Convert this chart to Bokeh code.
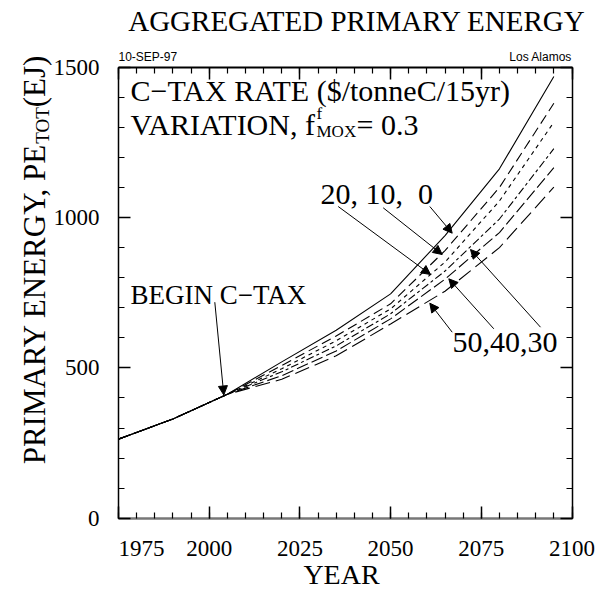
from bokeh.plotting import figure
from bokeh.models import Range1d, FixedTicker, LinearAxis, Label, Arrow, NormalHead
from bokeh.embed import file_html
from bokeh.resources import INLINE

# ---- data ----
years = [1975, 1990, 2005, 2020, 2035, 2050, 2065, 2080, 2095]
tax_rates = [0, 10, 20, 30, 40, 50]
pe_tax0 = [263, 330, 412, 520, 625, 746, 940, 1162, 1469]
pe_tax10 = [263, 330, 412, 508, 606, 713, 890, 1100, 1380]
pe_tax20 = [263, 330, 412, 497, 590, 696, 852, 1055, 1317]
pe_tax30 = [263, 330, 412, 487, 573, 680, 822, 995, 1229]
pe_tax40 = [263, 330, 412, 474, 556, 663, 795, 950, 1166]
pe_tax50 = [263, 330, 412, 462, 540, 646, 755, 900, 1101]
series = [pe_tax0, pe_tax10, pe_tax20, pe_tax30, pe_tax40, pe_tax50]
dashes = ["solid", "10 5", "4 4", "8 3 3 3", "12 4", "15 6"]

x_major = [1975, 2000, 2025, 2050, 2075, 2100]
y_major = [0, 500, 1000, 1500]
x_bounds = (1975, 2100)
y_bounds = (0, 1500)

SERIF = "Liberation Serif"
SANS = "Liberation Sans"

# reference pixel -> data helpers (the drawing area spans the whole canvas)
FL, FR, FT, FB = 118.0, 571.5, 66.7, 517.7
def dx(px):
    return 1975 + (px - FL) * 125.0 / (FR - FL)

def dy(py):
    return (FB - py) * 1500.0 / (FB - FT)

W, H = 596, 593
p = figure(width=W, height=H, output_backend="svg", toolbar_location=None,
           x_range=Range1d(dx(0), dx(W)), y_range=Range1d(dy(H), dy(0)),
           min_border=0, title_location=None,
           x_axis_location=None, y_axis_location=None)
p.outline_line_color = None
p.grid.visible = False
p.background_fill_color = "white"
p.border_fill_color = "white"

xt = FixedTicker(ticks=x_major, minor_ticks=list(range(1975, 2101, 5)))
yt = FixedTicker(ticks=y_major, minor_ticks=list(range(0, 1501, 100)))

def frame_axis(side, loc, ticker, bounds, labels, ticks, color="black", lw=1.5):
    ax = LinearAxis(ticker=ticker, fixed_location=loc, bounds=bounds)
    ax.major_tick_in = 12
    ax.major_tick_out = 0
    ax.minor_tick_in = 6
    ax.minor_tick_out = 0
    ax.major_tick_line_width = 1.5
    ax.minor_tick_line_width = 1.2
    ax.axis_line_color = color
    ax.axis_line_width = lw
    if labels:
        ax.major_label_text_font = SERIF
        ax.major_label_text_font_size = "23px"
        ax.major_label_text_color = "black"
    else:
        ax.major_label_overrides = {t: "" for t in ticks}
        ax.major_label_standoff = 0
    p.add_layout(ax, side)
    return ax

bx = frame_axis("below", 0, xt, x_bounds, True, x_major, color="#777777", lw=2.5)
bx.major_label_standoff = 18
bx.major_label_overrides = {1975: "\u00a0" * 8 + "1975"}
frame_axis("above", 1500, xt, x_bounds, False, x_major, lw=2)
ly = frame_axis("left", 1975, yt, y_bounds, True, y_major)
ly.major_label_standoff = 19
frame_axis("right", 2100, yt, y_bounds, False, y_major)

def lab(px, py, text, size, font=SERIF, align="left", angle=0.0):
    p.add_layout(Label(x=dx(px), y=dy(py), text=text, text_font=font,
                       text_font_size=f"{size}px", text_align=align, angle=angle,
                       text_baseline="middle", text_color="black"))

# title, stamps and axis titles (y = text middle)
lab(356.5, 20, "AGGREGATED PRIMARY ENERGY", 29, align="center")
lab(118, 56.5, "10-SEP-97", 12, font=SANS)
lab(571.5, 56.5, "Los Alamos", 12, font=SANS, align="right")
lab(341, 574, "YEAR", 28, align="center")
lab(34, 303.5, "PRIMARY ENERGY, PE", 31, align="center", angle=1.5708)
lab(42, 125, "TOT", 19, align="center", angle=1.5708)
lab(34, 81, "(EJ)", 31, align="center", angle=1.5708)

# inner texts
lab(130, 90, "C\u2212TAX RATE ($/tonneC/15yr)", 30)
lab(130, 124, "VARIATION, f", 30)
lab(316, 113, "f", 17)
lab(316, 131, "MOX", 17)
lab(356, 124, "= 0.3", 30)
lab(130, 294, "BEGIN C\u2212TAX", 27)
lab(320, 193, "20, 10, \u00a00", 30)
lab(452, 342, "50,40,30", 30)

arrows = [
    ((214.3, 301.7), (223.3, 394.5)),
    ((337.7, 206.0), (430.0, 274.0)),
    ((382.7, 207.3), (441.7, 254.0)),
    ((429.3, 206.0), (451.7, 232.7)),
    ((451.7, 331.7), (429.3, 302.7)),
    ((493.3, 328.3), (448.3, 278.3)),
    ((540.0, 326.7), (470.0, 249.0)),
]
for (s, e) in arrows:
    p.add_layout(Arrow(x_start=dx(s[0]), y_start=dy(s[1]), x_end=dx(e[0]), y_end=dy(e[1]),
                       line_width=1, line_color="black",
                       end=NormalHead(size=9, fill_color="black", line_color="black")))

for vals, d in zip(series, dashes):
    p.line(years, vals, line_color="black", line_width=1.1, line_dash=d)

open("out.html", "w").write(file_html(p, INLINE))
